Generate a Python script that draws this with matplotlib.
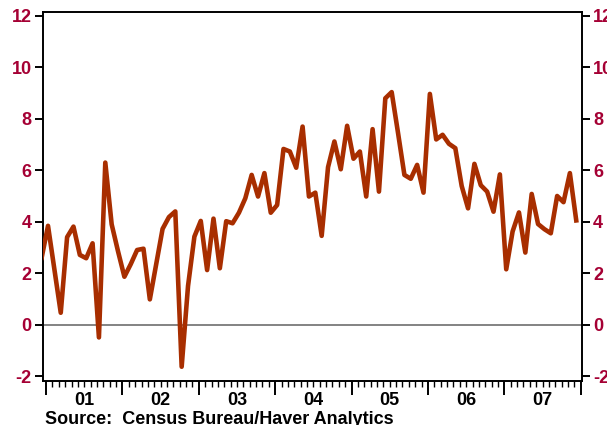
import matplotlib
matplotlib.use("Agg")
import matplotlib.pyplot as plt
import numpy as np

plt.rcParams['font.family'] = ['Liberation Sans', 'DejaVu Sans']

# monthly values, Dec 2000 .. Dec 2007 (percent)
values = [2.6,
          3.84, 2.15, 0.46, 3.40, 3.81, 2.71, 2.58, 3.16, -0.50, 6.30, 3.90, 2.85,
          1.86, 2.35, 2.90, 2.95, 0.98, 2.35, 3.72, 4.18, 4.40, -1.64, 1.50, 3.42,
          4.03, 2.12, 4.12, 2.19, 4.02, 3.94, 4.35, 4.91, 5.82, 4.98, 5.89, 4.35,
          4.65, 6.83, 6.73, 6.10, 7.70, 4.98, 5.13, 3.45, 6.12, 7.12, 6.04, 7.73,
          6.45, 6.73, 4.98, 7.60, 5.17, 8.80, 9.04, 7.45, 5.82, 5.67, 6.21, 5.13,
          8.97, 7.20, 7.38, 7.03, 6.86, 5.39, 4.52, 6.25, 5.42, 5.17, 4.39, 5.84,
          2.15, 3.62, 4.36, 2.80, 5.08, 3.91, 3.71, 3.55, 5.00, 4.76, 5.89, 4.05]
year_labels = ['01', '02', '03', '04', '05', '06', '07']
yticks = [-2, 0, 2, 4, 6, 8, 10, 12]

x = 2001 + (np.arange(len(values)) - 1) / 12 + 0.025

fig = plt.figure(figsize=(6.07, 4.25), dpi=100)
ax = fig.add_axes([0.0708, 0.1047, 0.8880, 0.8671])

ax.axhline(0, color='#6e6e6e', lw=1.2, zorder=1)
ax.plot(x, values, color='#A82E00', lw=3.3, solid_joinstyle='round', zorder=3)

ax.set_xlim(2000.959, 2008.017)
ax.set_ylim(-2.175, 12.156)

red = '#A50034'
ax.set_yticks(yticks)
ax.set_yticklabels([str(v) for v in yticks])
ax.tick_params(axis='y', which='major', direction='out', length=6, width=1.4,
               left=True, right=True, labelleft=True, labelright=True,
               labelsize=13, labelcolor=red, pad=2)
for lab in ax.get_yticklabels():
    lab.set_fontweight('bold')

years = np.arange(2001, 2009)
months = np.arange(2001, 2008, 1 / 12)
ax.set_xticks(years)
ax.set_xticklabels([])
ax.set_xticks(months, minor=True)
ax.tick_params(axis='x', which='major', direction='out', length=10, width=1.4)
ax.tick_params(axis='x', which='minor', direction='out', length=4, width=1.0)
for i, lab in enumerate(year_labels):
    ax.text(2001.5 + i, -0.03, lab, transform=ax.get_xaxis_transform(),
            ha='center', va='top', fontsize=13, fontweight='bold', color='black')

for s in ax.spines.values():
    s.set_linewidth(1.4)

fig.text(0.074, 0.013, 'Source:  Census Bureau/Haver Analytics', ha='left',
         va='center', fontsize=13, fontweight='bold', color='black')

fig.savefig('out.png', dpi=100)
